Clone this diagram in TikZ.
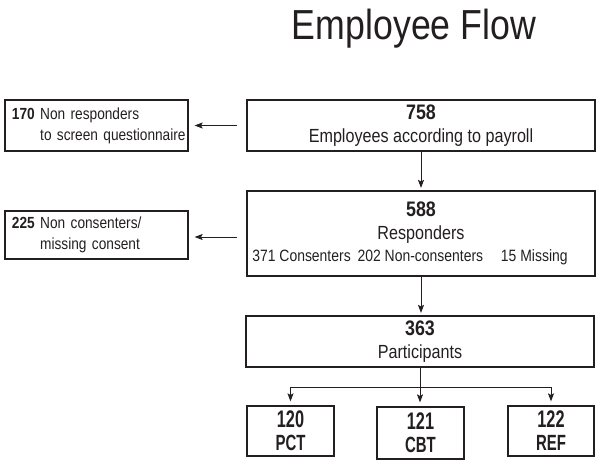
\documentclass[tikz,border=0pt]{standalone}
\usepackage{fontspec}
\setmainfont[FakeStretch=0.85]{Liberation Sans}
\newfontfamily\narrowfont[FakeStretch=0.68]{Liberation Sans}
\usetikzlibrary{arrows.meta,calc}
\definecolor{ink}{HTML}{231F20}
\def\mainwid{348pt}
\def\sidewid{183pt}
\def\armwid{87pt}
\newcommand{\bignum}[1]{{\fontsize{21}{22.6}\selectfont\bfseries #1}}
\newcommand{\sidenum}[1]{{\bfseries #1}}

\begin{document}
\begin{tikzpicture}[
            x=1pt, y=-1pt,
            every node/.style={text=ink},
            mainbox/.style={%
                draw=ink, line width=1.2pt, rectangle,%
                minimum width=\mainwid, inner sep=0pt,%
                align=center, font=\fontsize{19}{22.6}\selectfont%
            },
            sidebox/.style={%
                draw=ink, line width=1.2pt, rectangle,%
                minimum width=\sidewid, inner sep=0pt,%
                text width=169pt, align=left,%
                font=\fontsize{16.1}{21}\selectfont%
            },
            armbox/.style={%
                draw=ink, line width=1.2pt, rectangle,%
                minimum width=\armwid, inner sep=0pt,%
                align=center, font=\narrowfont\bfseries\fontsize{24}{23}\selectfont%
            },
            arrow/.style={draw=ink, line width=0.9pt, ->, >={Stealth[length=8pt,width=6pt,inset=1.5pt]}}
        ]

        \useasboundingbox (0,0) rectangle (600,471);

        % Title
        \node (title) [anchor=base, font=\fontsize{42}{44}\selectfont] at (414,39) {Employee Flow};

        % Main column
        \node (payroll) [mainbox, minimum height=51pt] at (421,125.5) {
            \bignum{758}\\
            Employees according to payroll
        };

        \node (resp) [mainbox, minimum height=85pt] at (421,233.5) {
            \bignum{588}\\
            Responders\\
            {\fontsize{16.4}{23}\selectfont 371 Consenters\hspace{3pt} 202 Non-consenters\hspace{14pt} 15 Missing\hspace*{22pt}}
        };

        \node (part) [mainbox, minimum height=51pt] at (420,341.5) {
            \bignum{363}\\
            Participants
        };

        % Side boxes
        \node (nonresp) [sidebox, minimum height=51pt] at (96.5,125.5) {
            \mbox{\sidenum{170} Non responders}\\
            \mbox{\hphantom{\sidenum{170} }to screen questionnaire}
        };

        \node (noncons) [sidebox, minimum height=48pt] at (96.5,235) {
            \mbox{\sidenum{225} Non consenters/}\\
            \mbox{\hphantom{\sidenum{225} }missing consent}
        };

        % Groups
        \node (pct) [armbox, minimum height=50pt] at (290.5,431) {120\\{\fontsize{22}{23}\selectfont PCT}};
        \node (cbt) [armbox, minimum height=52pt] at (420.5,433) {121\\{\fontsize{22}{23}\selectfont CBT}};
        \node (ref) [armbox, minimum height=50pt, minimum width=86pt] at (551,431) {122\\{\fontsize{22}{23}\selectfont REF}};

        \coordinate (split) at ($(part.south)+(0,20)$);

        \draw [arrow, shorten <=9pt, shorten >=6pt] (payroll.west) -- (payroll.west -| nonresp.east);
        \draw [arrow, shorten <=9pt, shorten >=6pt] ($(resp.west)+(0,3.5)$) -- ($(resp.west -| noncons.east)+(0,3.5)$);
        \draw [arrow, shorten >=2.5pt] (payroll) -- (resp);
        \draw [arrow, shorten >=2.5pt] (resp.south) -- (resp.south |- part.north);
        \draw [draw=ink, line width=0.9pt] (part.south) -- (split);
        \draw [arrow, shorten >=4pt] (split) -| (pct.north);
        \draw [arrow, shorten >=4pt] (split) -- (split |- cbt.north);
        \draw [arrow, shorten >=4pt] (split) -| (ref.north);

        \end{tikzpicture}
\end{document}
